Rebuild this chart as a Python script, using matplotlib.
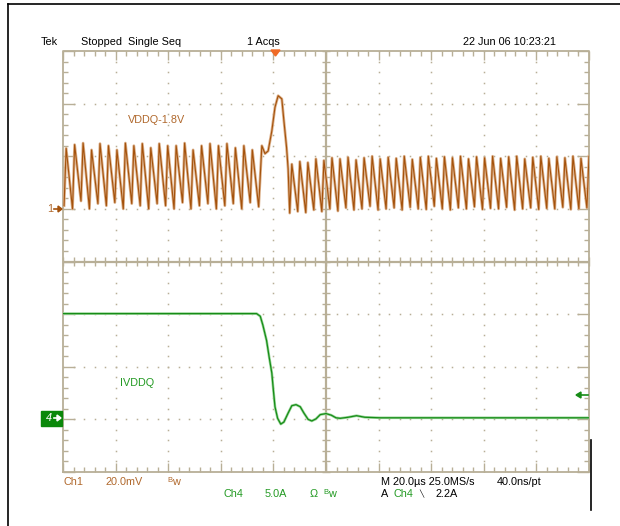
import numpy as np
import matplotlib
matplotlib.use('Agg')
import matplotlib.pyplot as plt
from matplotlib.lines import Line2D
from matplotlib.patches import Rectangle, Polygon
from matplotlib.collections import LineCollection

plt.rcParams['font.family'] = ['Liberation Sans', 'DejaVu Sans']

# screen is 10 x 8 divisions, centre at (5, 0)
# VDDQ-1.8V (ch1, 20mV/div) trace, levels in divisions
vddq_pre_lo = [1.06, 1.00, 1.15, 1.00, 1.10, 1.06, 1.12, 1.00, 1.10, 1.06, 1.00, 1.10,
               1.06, 1.00, 1.12, 1.00, 1.06, 1.10, 1.00, 1.06, 1.10, 1.00, 1.12, 1.04]
vddq_pre_hi = [2.15, 2.22, 2.25, 2.12, 2.24, 2.20, 2.12, 2.25, 2.20, 2.24, 2.16, 2.24,
               2.20, 2.20, 2.25, 2.12, 2.20, 2.24, 2.20, 2.24, 2.16, 2.20, 2.12]
bump_x = [3.78, 3.84, 3.90, 3.97, 4.03, 4.09, 4.16, 4.20, 4.25, 4.28]
bump_y = [2.20, 2.05, 2.10, 2.48, 2.93, 3.15, 3.09, 2.67, 2.17, 1.76]
vddq_post_lo = [0.92, 0.95, 0.93, 0.98, 0.95, 1.00, 0.96, 1.02, 0.98, 1.00, 1.05, 0.98,
                1.00, 1.02, 0.98, 1.03, 1.00, 0.99, 1.05, 1.00, 0.98, 1.02, 1.00, 1.04,
                0.99, 1.01, 1.00, 1.03, 0.98, 1.00, 1.02, 0.99, 1.01, 1.00, 1.03, 0.99,
                1.00, 1.02]
vddq_post_hi = [1.85, 1.90, 1.88, 1.95, 1.92, 1.97, 1.95, 1.98, 1.93, 1.97, 2.00, 1.95,
                1.98, 1.96, 2.00, 1.94, 1.98, 2.00, 1.96, 1.99, 1.97, 2.00, 1.95, 1.99,
                1.97, 2.00, 1.96, 1.99, 2.00, 1.95, 1.98, 2.00, 1.96, 1.99, 1.97, 2.00,
                1.96, 2.00]

# IVDDQ (ch4, 5A/div) trace
ivddq_x = [0.00, 3.68, 3.75, 3.80, 3.87, 3.92, 3.97, 4.00, 4.03, 4.08, 4.14, 4.20,
           4.28, 4.35, 4.43, 4.51, 4.58, 4.66, 4.73, 4.81, 4.89, 5.00, 5.10, 5.19,
           5.27, 5.42, 5.58, 5.74, 6.03, 10.0]
ivddq_y = [-0.99, -0.99, -1.04, -1.21, -1.50, -1.82, -2.12, -2.45, -2.76, -2.98, -3.09, -3.05,
           -2.88, -2.74, -2.72, -2.76, -2.88, -3.00, -3.03, -2.99, -2.91, -2.89, -2.92, -2.97,
           -2.98, -2.96, -2.93, -2.96, -2.97, -2.97]

W, H = 620, 526
GRID = '#b8af97'
BROWN = '#a4520c'
BROWN_LT = '#dcb08a'
LABEL_BROWN = '#b0682c'
GREEN = '#178c17'
GREEN_LT = '#9ad69a'
LABEL_GREEN = '#239a23'


def fx(x):
    return x / W


def fy(y):
    return 1 - y / H


fig = plt.figure(figsize=(W / 100, H / 100), dpi=100)
ax = fig.add_axes([fx(63), fy(472), (589 - 63) / W, (472 - 51) / H])
ax.set_xlim(0, 10)
ax.set_ylim(-4, 4)
ax.axis('off')

# graticule
xm = np.round(np.arange(0, 10.001, 0.2), 2)
ym = np.round(np.arange(-4, 4.001, 0.2), 2)
segs = []
for x in xm:
    ln = 0.18 if float(x).is_integer() else 0.09
    segs.append([(x, 4), (x, 4 - ln)])
    segs.append([(x, -4), (x, -4 + ln)])
    segs.append([(x, -0.08), (x, 0.08)])
for y in ym:
    ln = 0.22 if float(y).is_integer() else 0.09
    segs.append([(0, y), (ln, y)])
    segs.append([(10, y), (10 - ln, y)])
    segs.append([(4.92, y), (5.08, y)])
ax.add_collection(LineCollection(segs, colors=GRID, linewidths=1.0, clip_on=False))
ax.plot([0, 10, 10, 0, 0], [-4, -4, 4, 4, -4], color=GRID, lw=1.3, clip_on=False)
ax.plot([5, 5], [-4, 4], color=GRID, lw=1.6)
ax.plot([0, 10], [0, 0], color=GRID, lw=1.6)
dx, dy = [], []
for g in [1, 2, 3, 4, 6, 7, 8, 9]:
    dx += [g] * len(ym)
    dy += list(ym)
for g in [-3, -2, -1, 1, 2, 3]:
    dx += list(xm)
    dy += [g] * len(xm)
ax.plot(dx, dy, ls='none', marker='s', ms=1.1, mew=0, color=GRID)

# VDDQ trace
lo_t = np.linspace(0.02, 3.72, len(vddq_pre_lo))
tx, ty = [], []
for i in range(len(vddq_pre_hi)):
    tx += [lo_t[i], lo_t[i] + 0.04]
    ty += [vddq_pre_lo[i], vddq_pre_hi[i]]
tx.append(lo_t[-1])
ty.append(vddq_pre_lo[-1])
tx += bump_x
ty += bump_y
post_t = np.linspace(4.31, 9.96, len(vddq_post_lo))
for i in range(len(vddq_post_lo)):
    tx += [post_t[i], post_t[i] + 0.04]
    ty += [vddq_post_lo[i], vddq_post_hi[i]]
ax.plot(tx, ty, color=BROWN_LT, lw=2.0)
ax.plot(tx, ty, color=BROWN, lw=0.8)

# IVDDQ trace
ax.plot(ivddq_x, ivddq_y, color=GREEN_LT, lw=1.9)
ax.plot(ivddq_x, ivddq_y, color=GREEN, lw=0.9)

fs = 7.8
# trace labels
fig.text(fx(128), fy(120), 'VDDQ-1.8V', color=LABEL_BROWN, fontsize=fs, va='center')
fig.text(fx(120), fy(383), 'IVDDQ', color=LABEL_GREEN, fontsize=fs, va='center')

# channel markers
fig.text(fx(47), fy(209), '1', color=LABEL_BROWN, fontsize=fs, va='center')
fig.add_artist(Line2D([fx(54), fx(60)], [fy(209), fy(209)], color=BROWN, lw=1.2))
fig.add_artist(Polygon([(fx(58), fy(206)), (fx(62), fy(209)), (fx(58), fy(212))],
                       closed=True, color=BROWN, transform=fig.transFigure))
fig.add_artist(Rectangle((fx(41), fy(426)), (62 - 41) / W, 15 / H, color='#0a880a',
                         transform=fig.transFigure))
fig.text(fx(46), fy(418), '4', color='white', fontsize=fs, va='center', style='italic')
fig.add_artist(Line2D([fx(54), fx(59)], [fy(418), fy(418)], color='white', lw=1.2))
fig.add_artist(Polygon([(fx(57), fy(415)), (fx(61), fy(418)), (fx(57), fy(421))],
                       closed=True, color='white', transform=fig.transFigure))
# trigger level and position markers
fig.add_artist(Line2D([fx(580), fx(588)], [fy(395), fy(395)], color=GREEN, lw=1.2))
fig.add_artist(Polygon([(fx(581), fy(392)), (fx(576), fy(395)), (fx(581), fy(398))],
                       closed=True, color=GREEN, transform=fig.transFigure))
fig.add_artist(Polygon([(fx(271), fy(50)), (fx(280), fy(50)), (fx(275.5), fy(56))],
                       closed=True, color='#f06a25', transform=fig.transFigure))

# status text
fig.text(fx(41), fy(42), 'Tek', fontsize=fs, va='center')
fig.text(fx(81), fy(42), 'Stopped  Single Seq', fontsize=fs, va='center')
fig.text(fx(247), fy(42), '1 Acqs', fontsize=fs, va='center')
fig.text(fx(463), fy(42), '22 Jun 06 10:23:21', fontsize=fs, va='center')

r1, r2 = 482, 494
fig.text(fx(64), fy(r1), 'Ch1', color=LABEL_BROWN, fontsize=fs, va='center')
fig.text(fx(106), fy(r1), '20.0mV', color=LABEL_BROWN, fontsize=fs, va='center')
fig.text(fx(167), fy(r1 - 2), 'B', color=LABEL_BROWN, fontsize=5.5, va='center')
fig.text(fx(172), fy(r1), 'w', color=LABEL_BROWN, fontsize=fs, va='center')
fig.text(fx(224), fy(r2), 'Ch4', color=LABEL_GREEN, fontsize=fs, va='center')
fig.text(fx(265), fy(r2), '5.0A', color=LABEL_GREEN, fontsize=fs, va='center')
fig.text(fx(310), fy(r2), '\u03a9', color=LABEL_GREEN, fontsize=fs, va='center')
fig.text(fx(323), fy(r2 - 2), 'B', color=LABEL_GREEN, fontsize=5.5, va='center')
fig.text(fx(328), fy(r2), 'w', color=LABEL_GREEN, fontsize=fs, va='center')
fig.text(fx(381), fy(r1), 'M 20.0\u00b5s 25.0MS/s', fontsize=fs, va='center')
fig.text(fx(497), fy(r1), '40.0ns/pt', fontsize=fs, va='center')
fig.text(fx(381), fy(r2), 'A', fontsize=fs, va='center')
fig.text(fx(393), fy(r2), 'Ch4', color=LABEL_GREEN, fontsize=fs, va='center')
fig.text(fx(419), fy(r2), '\u2572', fontsize=5, va='center')
fig.text(fx(435), fy(r2), '2.2A', fontsize=fs, va='center')

# page frame lines
fig.add_artist(Line2D([fx(8), fx(8)], [fy(4), fy(526)], color='black', lw=1.2))
fig.add_artist(Line2D([fx(8), fx(620)], [fy(4), fy(4)], color='black', lw=1.2))
fig.add_artist(Line2D([fx(591), fx(591)], [fy(440), fy(510)], color='black', lw=1.2))

fig.savefig('out.png', dpi=100, facecolor='white')
